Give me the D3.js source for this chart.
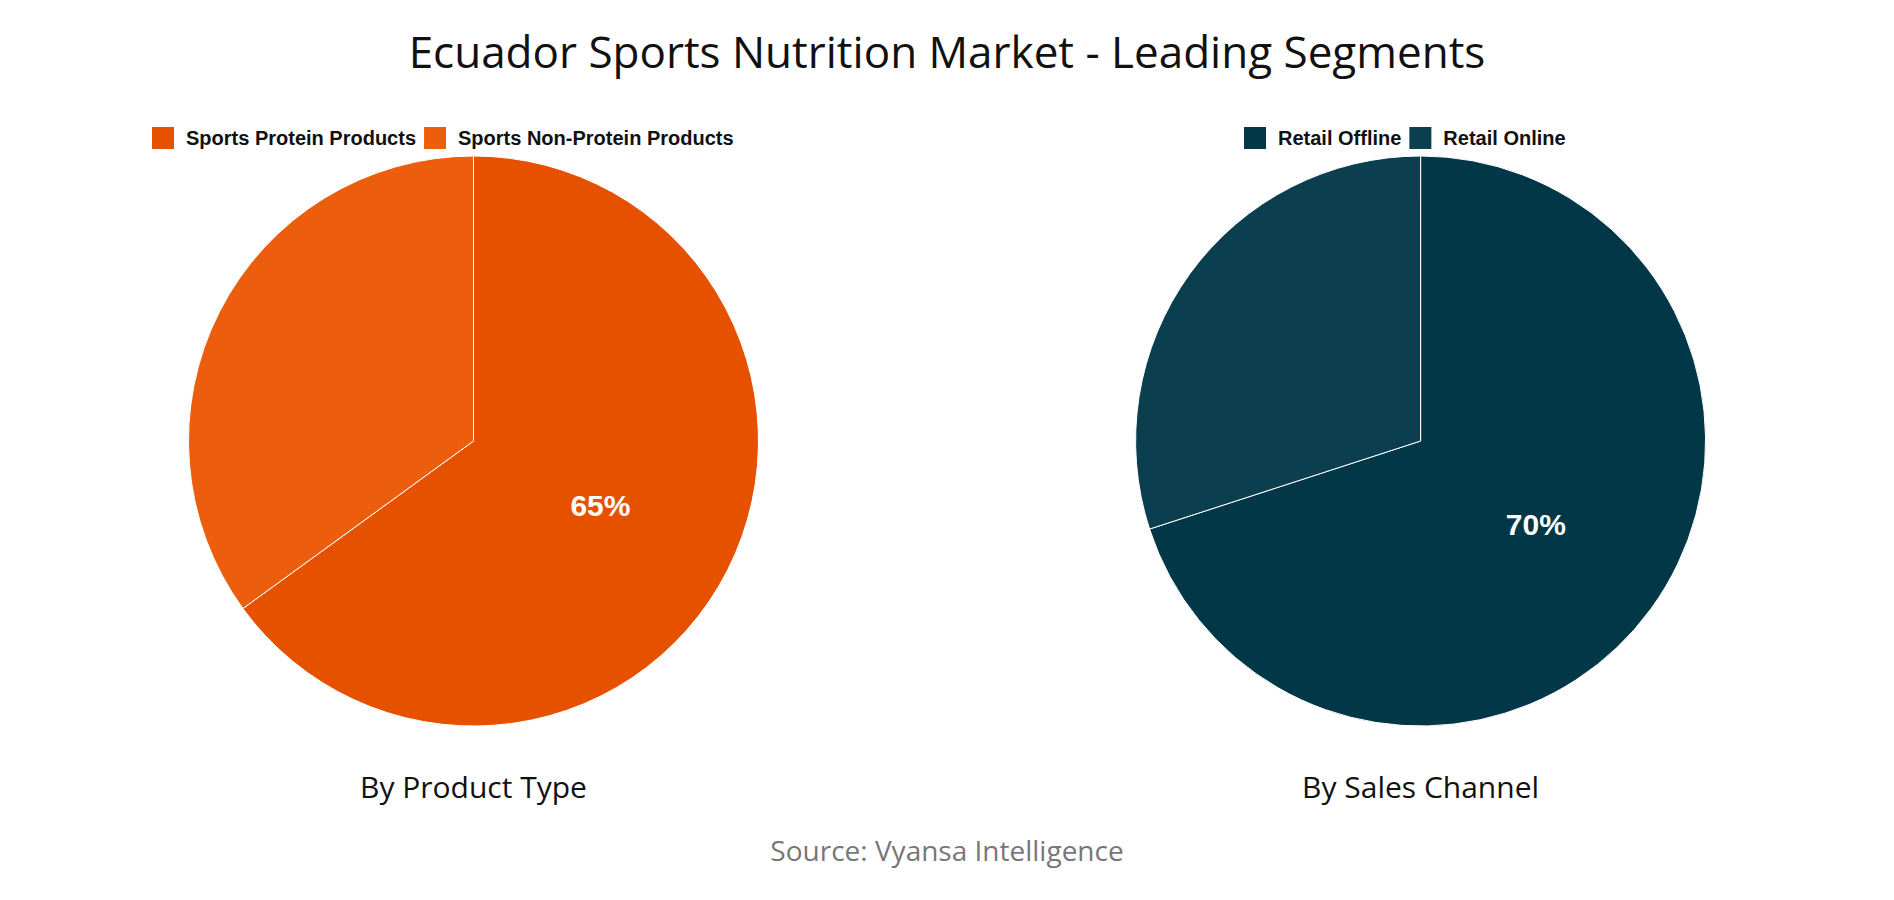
<!DOCTYPE html>
<html><head><meta charset="utf-8">
<script src="https://cdn.jsdelivr.net/npm/d3@7"></script>
<style>body{margin:0;background:#fff}</style></head>
<body><svg id="c" width="1894" height="900"></svg>
<script>
const productCategories = ["Sports Protein Products", "Sports Non-Protein Products"];
const productValues = [65, 35];
const productColors = ["#E65100", "#EC5E0E"];
const channelCategories = ["Retail Offline", "Retail Online"];
const channelValues = [70, 30];
const channelColors = ["#023747", "#0B3F50"];

const svg = d3.select("#c");
svg.append("text").attr("x", 947).attr("y", 68).attr("text-anchor", "middle")
  .attr("font-family", "Open Sans, sans-serif").attr("font-size", 44).attr("fill", "#111")
  .text("Ecuador Sports Nutrition Market - Leading Segments");

function drawPie(cx, cats, vals, cols, subtitle, legendX) {
  const R = 285, cy = 441;
  const g = svg.append("g").attr("transform", `translate(${cx},${cy})`);
  const pie = d3.pie().sort(null)(vals);
  const arc = d3.arc().innerRadius(0).outerRadius(R);
  g.selectAll("path").data(pie).join("path").attr("d", arc)
    .attr("fill", (d, i) => cols[i]).attr("stroke", "#fff").attr("stroke-width", 1);
  const lab = d3.arc().innerRadius(R * 0.5).outerRadius(R * 0.5);
  const d0 = pie[0];
  const mid = (d0.startAngle + d0.endAngle) / 2;
  g.append("text").attr("x", Math.sin(mid) * R * 0.5).attr("y", -Math.cos(mid) * R * 0.5 + 10)
    .attr("text-anchor", "middle").attr("font-family", "Liberation Sans, Arial").attr("font-weight", "bold")
    .attr("font-size", 30).attr("fill", "#fff").text(vals[0] + "%");
  // legend
  let x = legendX;
  cats.forEach((c, i) => {
    svg.append("rect").attr("x", x).attr("y", 127).attr("width", 22).attr("height", 22).attr("fill", cols[i]);
    const t = svg.append("text").attr("x", x + 34).attr("y", 145)
      .attr("font-family", "Liberation Sans, Arial").attr("font-weight", "bold").attr("font-size", 20)
      .attr("fill", "#111").text(c);
    x += 34 + t.node().getComputedTextLength() + 8;
  });
  svg.append("text").attr("x", cx).attr("y", 798).attr("text-anchor", "middle")
    .attr("font-family", "Open Sans, sans-serif").attr("font-size", 30).attr("fill", "#111").text(subtitle);
}
drawPie(473.5, productCategories, productValues, productColors, "By Product Type", 152);
drawPie(1420.6, channelCategories, channelValues, channelColors, "By Sales Channel", 1244);

svg.append("text").attr("x", 947).attr("y", 861).attr("text-anchor", "middle")
  .attr("font-family", "Open Sans, sans-serif").attr("font-size", 28).attr("fill", "#777")
  .text("Source: Vyansa Intelligence");
</script></body></html>
